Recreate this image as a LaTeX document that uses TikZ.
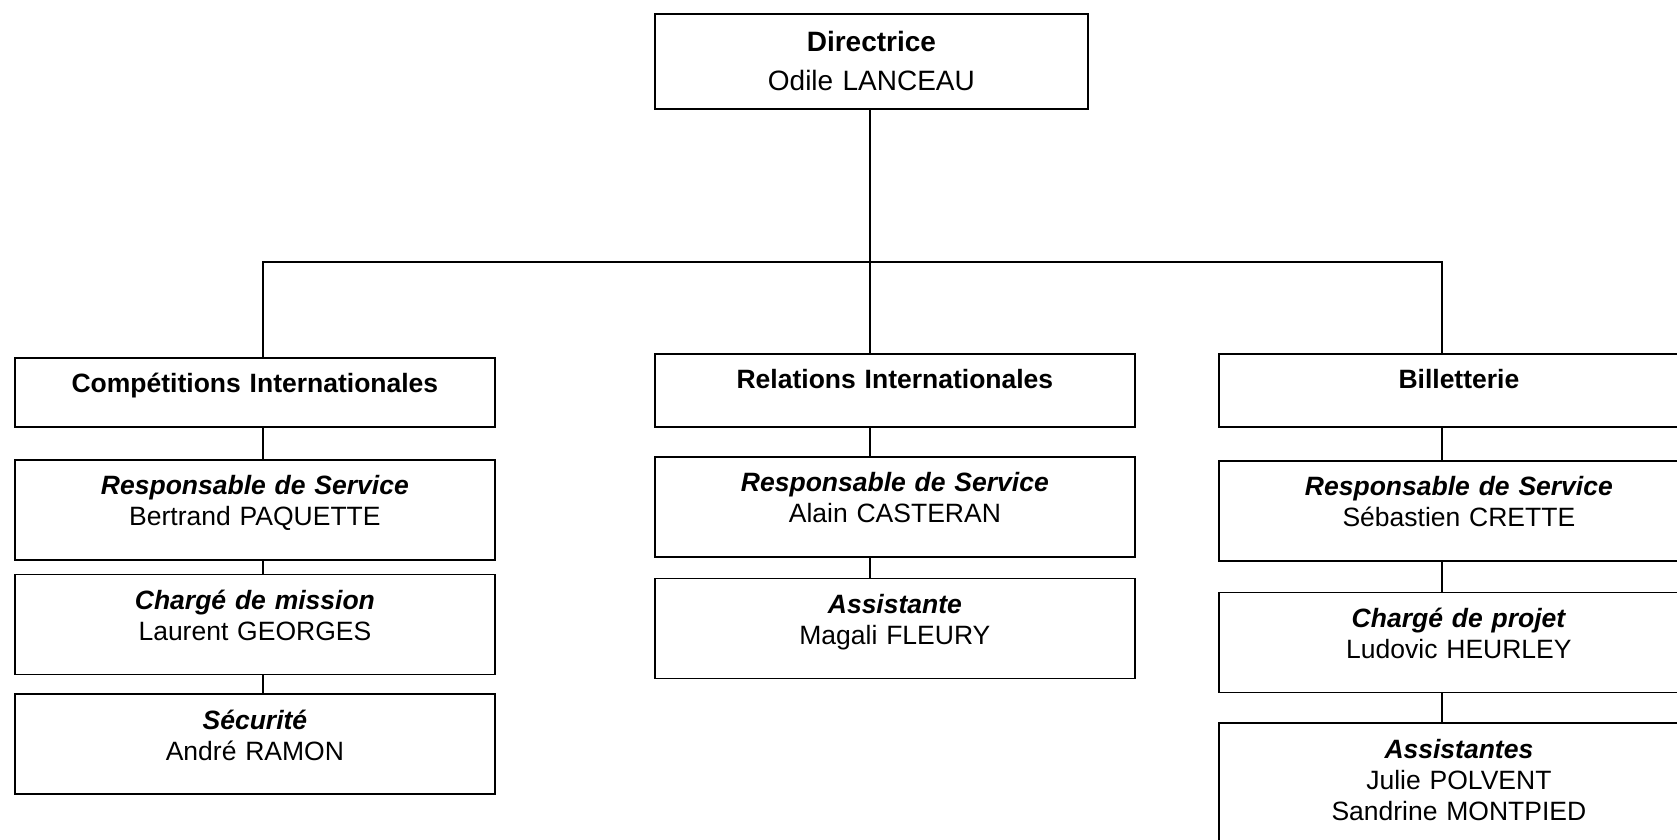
\documentclass[tikz,border=0pt]{standalone}
\usepackage{fontspec}
\setmainfont{Liberation Sans}
\usetikzlibrary{positioning}

\begin{document}
\begin{tikzpicture}[x=0.5pt, y=-0.5pt, line width=0.9pt,
  unit/.style={draw, anchor=north west, text width=240pt, align=center,
    inner sep=0pt, text height=17.5pt, text depth=#1,
    font=\fontsize{13.25pt}{15.5pt}\selectfont},
  unit/.default=32.5pt]
  \useasboundingbox (0,0) rectangle (1677,840);

  % direction
  \node[unit, text width=216.5pt, text height=19pt, text depth=28.5pt,
        font=\fontsize{14pt}{19.5pt}\selectfont] (boss) at (654,13)
        {\textbf{Directrice}\\Odile LANCEAU};

  % services
  \node[unit=17pt] (comp) at (14,357)   {\textbf{Compétitions Internationales}};
  \node[unit=19pt] (rel)  at (654,353)  {\textbf{Relations Internationales}};
  \node[unit=19pt] (bill) at (1218,353) {\textbf{Billetterie}};

  % staff
  \node[unit] (resp1) [below=15.5pt of comp]  {\textbf{\textit{Responsable de Service}}\\Bertrand PAQUETTE};
  \node[unit] (miss1) [below=6.5pt of resp1]  {\textbf{\textit{Chargé de mission}}\\Laurent GEORGES};
  \node[unit] (secu1) [below=9pt of miss1]    {\textbf{\textit{Sécurité}}\\André RAMON};

  \node[unit] (resp2) [below=14pt of rel]     {\textbf{\textit{Responsable de Service}}\\Alain CASTERAN};
  \node[unit] (asst2) [below=10pt of resp2]   {\textbf{\textit{Assistante}}\\Magali FLEURY};

  \node[unit] (resp3) [below=16pt of bill]    {\textbf{\textit{Responsable de Service}}\\Sébastien CRETTE};
  \node[unit] (proj3) [below=15pt of resp3]   {\textbf{\textit{Chargé de projet}}\\Ludovic HEURLEY};
  \node[unit=62.5pt] (asst3) [below=14.5pt of proj3]
        {\textbf{\textit{Assistantes}}\\Julie POLVENT\\Sandrine MONTPIED};

  \coordinate (hubL) at (263,262);
  \coordinate (hubM) at (870,262);
  \coordinate (hubR) at (1442,262);

  \draw (boss.south -| hubM) -- (hubM) -- (rel.north -| hubM);
  \draw (comp.north -| hubL) -- (hubL) -- (hubR) -- (bill.north -| hubR);
  \draw (comp.south -| hubL)  -- (resp1.north -| hubL)
        (resp1.south -| hubL) -- (miss1.north -| hubL)
        (miss1.south -| hubL) -- (secu1.north -| hubL);
  \draw (rel.south -| hubM)   -- (resp2.north -| hubM)
        (resp2.south -| hubM) -- (asst2.north -| hubM);
  \draw (bill.south -| hubR)  -- (resp3.north -| hubR)
        (resp3.south -| hubR) -- (proj3.north -| hubR)
        (proj3.south -| hubR) -- (asst3.north -| hubR);
\end{tikzpicture}
\end{document}
